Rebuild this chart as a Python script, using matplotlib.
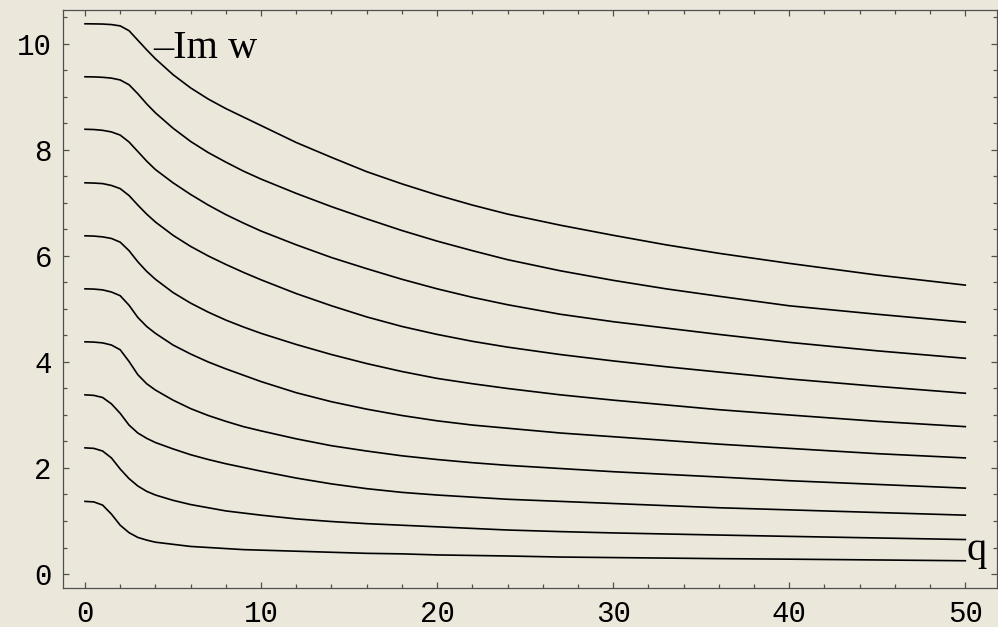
import matplotlib
matplotlib.use("Agg")
import matplotlib.pyplot as plt
from matplotlib.ticker import MultipleLocator

# q values shared by every branch
q = [0, 0.5, 1, 1.5, 2, 2.5, 3, 3.5, 4, 5, 6, 7, 8, 9, 10,
     12, 14, 16, 18, 20, 22, 24, 27, 30, 33, 36, 40, 45, 50]

# -Im w for each branch, lowest first
im1 = [1.37, 1.36, 1.30, 1.13, 0.92, 0.78, 0.69, 0.64, 0.60, 0.56, 0.52, 0.50, 0.48, 0.46, 0.45,
       0.43, 0.41, 0.39, 0.38, 0.36, 0.35, 0.34, 0.32, 0.31, 0.30, 0.29, 0.28, 0.265, 0.25]
im2 = [2.38, 2.37, 2.32, 2.19, 1.98, 1.80, 1.66, 1.56, 1.49, 1.39, 1.31, 1.25, 1.19, 1.15, 1.11,
       1.04, 0.99, 0.95, 0.92, 0.89, 0.86, 0.83, 0.80, 0.775, 0.755, 0.735, 0.71, 0.68, 0.65]
im3 = [3.38, 3.37, 3.33, 3.21, 3.03, 2.81, 2.66, 2.56, 2.48, 2.36, 2.25, 2.16, 2.08, 2.01, 1.94,
       1.81, 1.70, 1.61, 1.54, 1.49, 1.45, 1.41, 1.37, 1.33, 1.29, 1.25, 1.21, 1.16, 1.11]
im4 = [4.38, 4.375, 4.36, 4.32, 4.23, 4.01, 3.76, 3.59, 3.47, 3.28, 3.12, 2.99, 2.88, 2.78, 2.70,
       2.55, 2.42, 2.32, 2.23, 2.16, 2.10, 2.05, 1.99, 1.93, 1.88, 1.83, 1.76, 1.69, 1.62]
im5 = [5.38, 5.375, 5.36, 5.32, 5.25, 5.07, 4.84, 4.67, 4.54, 4.32, 4.15, 4.00, 3.87, 3.75, 3.63,
       3.42, 3.25, 3.11, 2.99, 2.89, 2.81, 2.75, 2.66, 2.59, 2.52, 2.45, 2.37, 2.27, 2.19]
im6 = [6.38, 6.375, 6.36, 6.33, 6.26, 6.10, 5.89, 5.71, 5.56, 5.31, 5.11, 4.94, 4.79, 4.66, 4.54,
       4.33, 4.14, 3.97, 3.82, 3.69, 3.59, 3.50, 3.38, 3.28, 3.19, 3.10, 3.00, 2.88, 2.78]
im7 = [7.38, 7.375, 7.365, 7.33, 7.27, 7.14, 6.96, 6.79, 6.64, 6.39, 6.18, 6.00, 5.84, 5.69, 5.55,
       5.29, 5.06, 4.85, 4.67, 4.52, 4.39, 4.28, 4.14, 4.02, 3.91, 3.81, 3.68, 3.54, 3.41]
im8 = [8.39, 8.385, 8.37, 8.34, 8.28, 8.15, 7.97, 7.79, 7.63, 7.38, 7.16, 6.96, 6.78, 6.62, 6.47,
       6.21, 5.97, 5.76, 5.56, 5.38, 5.22, 5.08, 4.90, 4.76, 4.64, 4.52, 4.37, 4.21, 4.07]
im9 = [9.38, 9.378, 9.37, 9.355, 9.32, 9.23, 9.06, 8.87, 8.70, 8.41, 8.16, 7.95, 7.77, 7.60, 7.45,
       7.18, 6.93, 6.70, 6.48, 6.28, 6.10, 5.93, 5.72, 5.54, 5.38, 5.24, 5.06, 4.90, 4.75]
im10 = [10.38, 10.378, 10.375, 10.365, 10.34, 10.25, 10.07, 9.89, 9.72, 9.42, 9.17, 8.96, 8.78, 8.62, 8.46,
        8.14, 7.86, 7.59, 7.36, 7.15, 6.96, 6.79, 6.58, 6.39, 6.21, 6.05, 5.86, 5.64, 5.45]

branches = [im1, im2, im3, im4, im5, im6, im7, im8, im9, im10]

bg = "#ebe7db"
edge = "#505050"

fig = plt.figure(figsize=(9.98, 6.27), dpi=100, facecolor=bg)
ax = fig.add_axes([63 / 998, 1 - 588 / 627, 934 / 998, 578 / 627])
ax.set_facecolor(bg)

for b in branches:
    ax.plot(q, b, color="black", lw=1.2, solid_joinstyle="round")

ax.set_xlim(-1.25, 51.8)
ax.set_ylim(-0.264, 10.64)

ax.xaxis.set_major_locator(MultipleLocator(10))
ax.xaxis.set_minor_locator(MultipleLocator(2))
ax.yaxis.set_major_locator(MultipleLocator(2))
ax.yaxis.set_minor_locator(MultipleLocator(0.5))

ax.tick_params(which="both", direction="in", top=True, right=True,
               color=edge, width=0.9)
ax.tick_params(which="major", length=4.5)
ax.tick_params(which="minor", length=3)
ax.tick_params(axis="x", which="major", pad=9)
ax.tick_params(axis="y", which="major", pad=8)

for lab in ax.get_xticklabels() + ax.get_yticklabels():
    lab.set_family("Liberation Mono")
    lab.set_fontsize(21)

for s in ax.spines.values():
    s.set_color(edge)
    s.set_linewidth(0.9)

ax.text(3.85, 9.74, "\u2013Im w", family="Liberation Serif", fontsize=29,
        ha="left", va="baseline")
ax.text(50.05, 0.26, "q", family="Liberation Serif", fontsize=29,
        ha="left", va="baseline")

fig.savefig("out.png", dpi=100, facecolor=bg)
